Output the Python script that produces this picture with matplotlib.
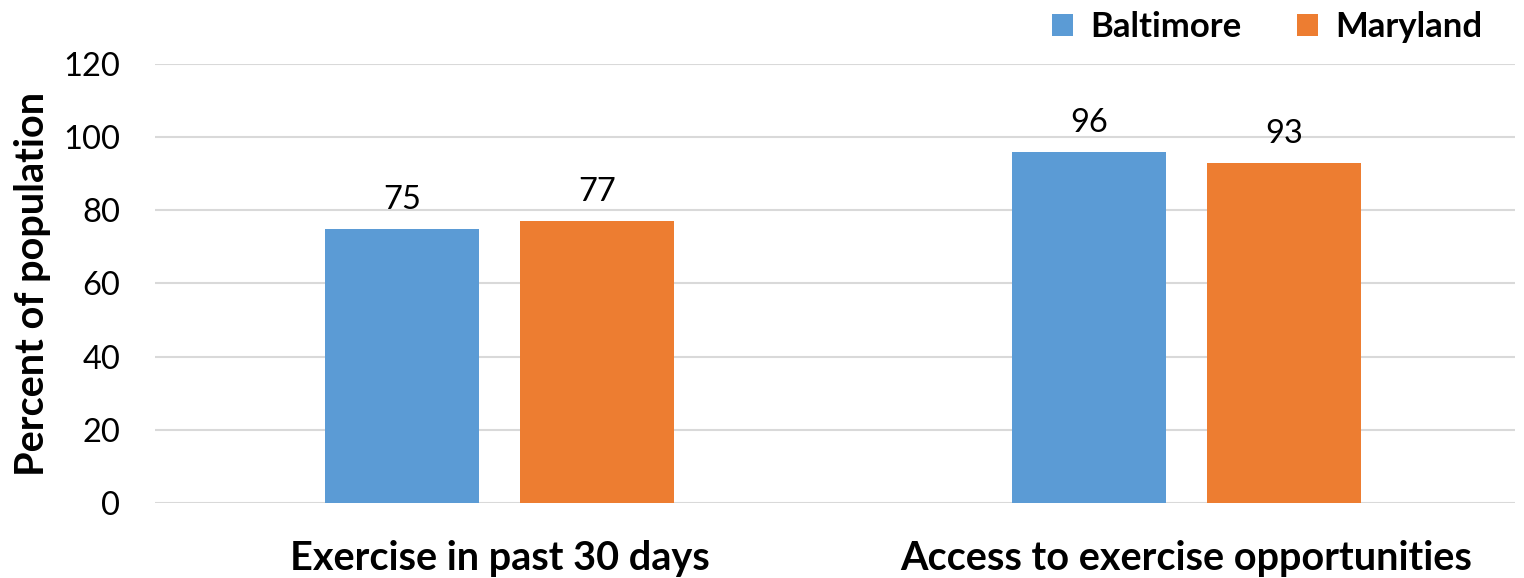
import matplotlib.pyplot as plt
import numpy as np

categories = ["Exercise in past 30 days", "Access to exercise opportunities"]
baltimore = [75, 96]
maryland = [77, 93]
series_names = ["Baltimore", "Maryland"]
y_ticks = [0, 20, 40, 60, 80, 100, 120]

plt.rcParams['font.family'] = ['Lato', 'DejaVu Sans']

fig = plt.figure(figsize=(15.24, 5.78), dpi=100)
ax = fig.add_axes([0.1017, 0.1298, 0.8923, 0.7595])

x = np.arange(len(categories))
w = 0.224
off = 0.142
blue = "#5B9BD5"
orange = "#ED7D31"

b1 = ax.bar(x - off, baltimore, w, color=blue, label=series_names[0], zorder=3)
b2 = ax.bar(x + off, maryland, w, color=orange, label=series_names[1], zorder=3)

for bars, vals in ((b1, baltimore), (b2, maryland)):
    for rect, v in zip(bars, vals):
        ax.annotate(f"{v}", (rect.get_x() + rect.get_width() / 2, v),
                    xytext=(0, 10), textcoords="offset points",
                    ha="center", va="bottom", fontsize=23.5)

ax.set_ylim(0, 120)
ax.set_xlim(-0.5015, 1.478)
ax.set_yticks(y_ticks)
ax.tick_params(axis='y', length=0, pad=25, labelsize=23.5)
ax.tick_params(axis='x', length=0, pad=27, labelsize=28.5)
ax.set_xticks(x)
ax.set_xticklabels(categories, fontweight='bold')
ax.yaxis.grid(True, color="#D9D9D9", linewidth=1.5, zorder=0)
for s in ax.spines.values():
    s.set_visible(False)
ax.set_ylabel("Percent of population", fontsize=28.5, fontweight='bold', labelpad=9)

leg = fig.legend(handles=[b1, b2], labels=series_names, loc="upper right",
                 bbox_to_anchor=(0.993, 1.035), ncol=2, frameon=False,
                 prop={'size': 25, 'weight': 'bold'}, handlelength=0.6,
                 handleheight=0.6, handletextpad=0.5, columnspacing=1.58)

fig.savefig("out.png", dpi=100)
